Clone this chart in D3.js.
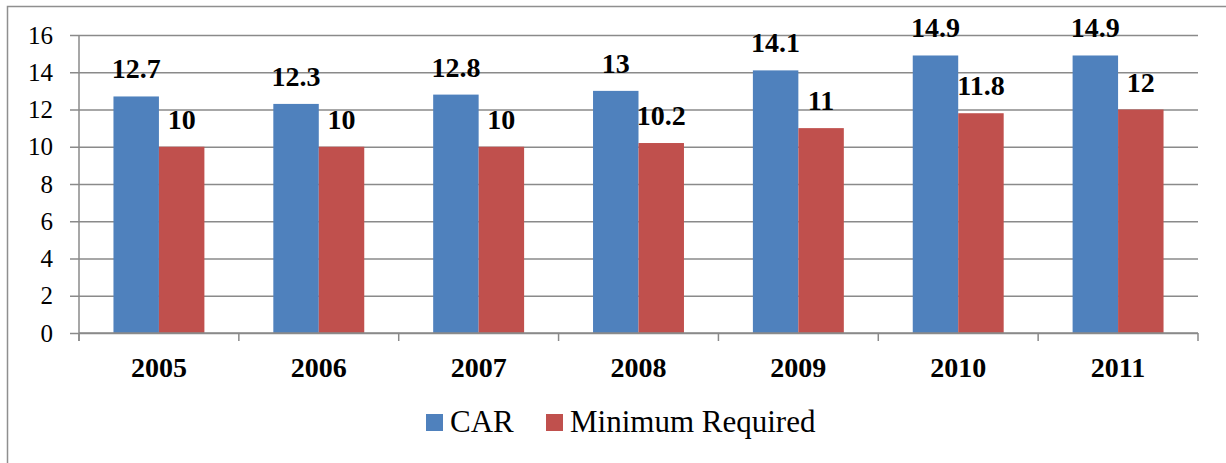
<!DOCTYPE html>
<html>
<head>
<meta charset="utf-8">
<script src="https://cdn.jsdelivr.net/npm/d3@7"></script>
<style>
  body { margin: 0; background: #fff; }
</style>
</head>
<body>
<div id="chart"></div>
<script>
const years = ["2005", "2006", "2007", "2008", "2009", "2010", "2011"];
const seriesNames = ["CAR", "Minimum Required"];
const carValues = [12.7, 12.3, 12.8, 13, 14.1, 14.9, 14.9];
const minValues = [10, 10, 10, 10.2, 11, 11.8, 12];
const yTicks = [0, 2, 4, 6, 8, 10, 12, 14, 16];

const ctx = {
    W: 1226,
    H: 463,
    left: 79,
    right: 1198,
    top: 35,
    bottom: 333,
    colors: ["#4F81BD", "#C0504D"],
    grid: "#8a8a8a",
    font: '"Liberation Serif"',
};

function createViz() {
    const svg = d3.select("#chart").append("svg")
        .attr("width", ctx.W)
        .attr("height", ctx.H);

    // outer frame (only left and top edges are visible)
    svg.append("rect")
        .attr("x", 7.5).attr("y", 6.5)
        .attr("width", 1300).attr("height", 600)
        .attr("fill", "none")
        .attr("stroke", "#8f8f8f")
        .attr("stroke-width", 1.5);

    const x = d3.scaleBand().domain(years).range([ctx.left, ctx.right]);
    const x1 = d3.scaleBand().domain(seriesNames).range([0, x.bandwidth()])
        .paddingInner(0).paddingOuter(0.758);
    const y = d3.scaleLinear().domain([0, 16]).range([ctx.bottom, ctx.top]);

    // y axis with gridlines
    const yAxis = svg.append("g")
        .attr("transform", `translate(${ctx.left},0)`)
        .call(d3.axisLeft(y).tickValues(yTicks).tickSize(9).tickPadding(17));
    yAxis.select(".domain").remove();
    yAxis.selectAll(".tick line")
        .attr("x2", ctx.right - ctx.left)
        .attr("x1", -9)
        .attr("stroke", ctx.grid)
        .attr("stroke-width", 1.5);
    yAxis.selectAll(".tick text")
        .style("font-family", ctx.font)
        .style("font-size", "25px")
        .attr("fill", "#000");

    svg.append("line")
        .attr("x1", ctx.left).attr("x2", ctx.left)
        .attr("y1", ctx.top).attr("y2", ctx.bottom + 8)
        .attr("stroke", ctx.grid).attr("stroke-width", 1.5);

    // bars
    const rows = years.map((yr, i) => ({ year: yr, values: [carValues[i], minValues[i]] }));
    const groups = svg.append("g").selectAll("g")
        .data(rows)
        .join("g")
        .attr("transform", d => `translate(${x(d.year)},0)`);

    groups.selectAll("rect")
        .data(d => d.values.map((v, k) => ({ name: seriesNames[k], v, k })))
        .join("rect")
        .attr("x", d => x1(d.name))
        .attr("width", x1.bandwidth())
        .attr("y", d => y(d.v))
        .attr("height", d => y(0) - y(d.v))
        .attr("fill", d => ctx.colors[d.k]);

    groups.selectAll("text")
        .data(d => d.values.map((v, k) => ({ name: seriesNames[k], v, k })))
        .join("text")
        .attr("x", d => x1(d.name) + x1.bandwidth() / 2)
        .attr("y", d => y(d.v) - 18)
        .attr("text-anchor", "middle")
        .style("font-family", ctx.font)
        .style("font-size", "28px")
        .style("font-weight", "bold")
        .text(d => d.v);

    // x axis
    const xAxis = svg.append("g")
        .attr("transform", `translate(0,${ctx.bottom})`);
    xAxis.append("line")
        .attr("x1", ctx.left).attr("x2", ctx.right)
        .attr("stroke", ctx.grid).attr("stroke-width", 1.5);
    const bounds = years.map(d => x(d)).concat([ctx.right]);
    xAxis.selectAll(".sep")
        .data(bounds)
        .join("line")
        .attr("class", "sep")
        .attr("x1", d => d).attr("x2", d => d)
        .attr("y1", 0).attr("y2", 8)
        .attr("stroke", ctx.grid).attr("stroke-width", 1.5);
    xAxis.selectAll(".lbl")
        .data(years)
        .join("text")
        .attr("class", "lbl")
        .attr("x", d => x(d) + x.bandwidth() / 2)
        .attr("y", 44)
        .attr("text-anchor", "middle")
        .style("font-family", ctx.font)
        .style("font-size", "28px")
        .style("font-weight", "bold")
        .text(d => d);

    // legend
    const legendPos = [426, 546];
    const legend = svg.append("g");
    const items = legend.selectAll("g")
        .data(seriesNames)
        .join("g")
        .attr("transform", (d, i) => `translate(${legendPos[i]},414)`);
    items.append("rect")
        .attr("width", 17).attr("height", 17)
        .attr("fill", (d, i) => ctx.colors[i]);
    items.append("text")
        .attr("x", 24).attr("y", 18)
        .style("font-family", ctx.font)
        .style("font-size", "31px")
        .text(d => d);
}

createViz();
</script>
</body>
</html>
